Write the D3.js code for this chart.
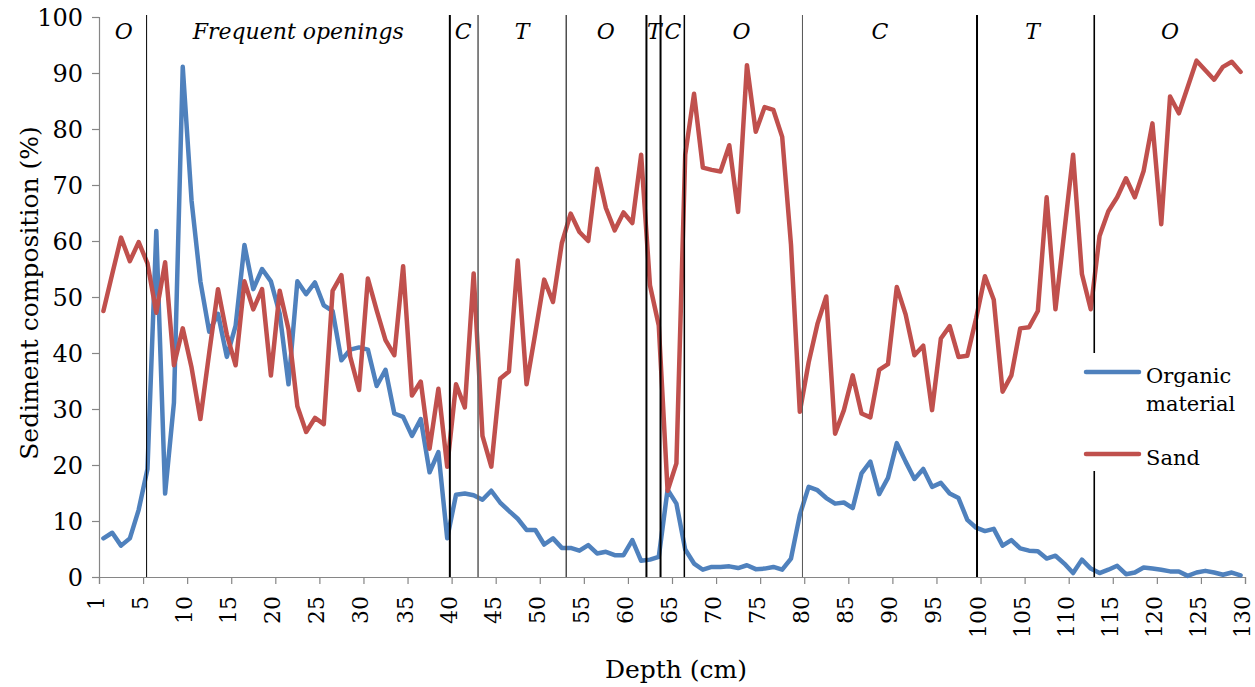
<!DOCTYPE html>
<html>
<head>
<meta charset="utf-8">
<script src="https://cdn.jsdelivr.net/npm/d3@7"></script>
<style>
  html, body { margin: 0; padding: 0; background: #fff; }
  svg { display: block; }
  text { font-family: "DejaVu Serif", serif; fill: #000; }
</style>
</head>
<body>
<svg id="chart" width="1255" height="687"></svg>
<script>
// ---------- data ----------
const tickLabels = ["1","5","10","15","20","25","30","35","40","45","50","55","60","65",
  "70","75","80","85","90","95","100","105","110","115","120","125","130"];

const organicMaterial = [
  6.9, 7.9, 5.6, 6.9, 12.0, 19.3, 61.8, 14.9, 31.1, 91.1,
  67.2, 52.8, 43.8, 47.0, 39.3, 44.9, 59.3, 51.4, 55.0, 52.8,
  47.0, 34.4, 52.8, 50.5, 52.6, 48.5, 47.5, 38.7, 40.6, 41.0,
  40.6, 34.1, 37.0, 29.2, 28.6, 25.2, 28.2, 18.7, 22.3, 6.9,
  14.7, 14.9, 14.6, 13.8, 15.4, 13.3, 11.8, 10.4, 8.4, 8.4,
  5.8, 6.9, 5.2, 5.2, 4.7, 5.7, 4.2, 4.5, 3.9, 3.9,
  6.6, 2.9, 3.1, 3.6, 15.6, 13.1, 4.9, 2.4, 1.3, 1.8,
  1.8, 1.9, 1.6, 2.1, 1.4, 1.5, 1.8, 1.3, 3.3, 11.1,
  16.1, 15.5, 14.1, 13.1, 13.3, 12.3, 18.5, 20.6, 14.8, 17.7,
  23.9, 20.6, 17.5, 19.3, 16.1, 16.8, 14.9, 14.1, 10.2, 8.8,
  8.2, 8.6, 5.6, 6.6, 5.1, 4.7, 4.6, 3.3, 3.8, 2.4,
  0.7, 3.1, 1.5, 0.7, 1.3, 2.0, 0.5, 0.8, 1.7, 1.5,
  1.3, 1.0, 1.0, 0.2, 0.8, 1.1, 0.8, 0.4, 0.8, 0.3
];

const sand = [
  47.5, 54.1, 60.6, 56.4, 59.8, 56.0, 47.2, 56.2, 37.8, 44.4,
  37.4, 28.2, 40.0, 51.4, 43.3, 37.8, 52.8, 47.8, 51.4, 36.0,
  51.1, 44.2, 30.5, 25.9, 28.4, 27.3, 51.1, 53.9, 39.3, 33.4,
  53.3, 47.6, 42.3, 39.6, 55.5, 32.4, 34.9, 22.9, 33.6, 19.7,
  34.4, 30.3, 54.2, 25.2, 19.7, 35.4, 36.7, 56.5, 34.4, 43.6,
  53.1, 49.1, 59.6, 64.9, 61.6, 60.0, 72.9, 65.9, 61.9, 65.1,
  63.2, 75.4, 52.1, 44.9, 15.4, 20.3, 75.4, 86.3, 73.1, 72.7,
  72.4, 77.1, 65.2, 91.4, 79.5, 83.9, 83.4, 78.6, 59.3, 29.5,
  38.3, 45.2, 50.1, 25.6, 29.8, 36.0, 29.2, 28.5, 37.0, 38.0,
  51.8, 46.9, 39.6, 41.3, 29.8, 42.6, 44.8, 39.3, 39.5, 46.2,
  53.7, 49.5, 33.1, 36.0, 44.4, 44.6, 47.5, 67.8, 47.8, 61.6,
  75.4, 54.1, 47.8, 60.9, 65.3, 67.8, 71.2, 67.8, 72.5, 81.0,
  63.0, 85.8, 82.8, 87.5, 92.2, 90.5, 88.8, 91.1, 92.0, 90.2
];

// zone boundaries (depth-axis units) and zone labels
const zoneBoundaries = [5.4, 39.8, 43.0, 53.0, 62.1, 63.7, 66.4, 79.8, 99.6, 112.9];
const zoneLabels = ["O", "Frequent openings", "C", "T", "O", "T", "C", "O", "C", "T", "O"];
const zoneLabelAt = [2.8, 22.6, 41.3, 48.0, 57.5, 63.0, 65.1, 72.9, 88.6, 105.9, 121.5];

const seriesNames = ["Organic\nmaterial", "Sand"];
const yTicks = [0, 10, 20, 30, 40, 50, 60, 70, 80, 90, 100];

// ---------- style / layout ----------
const colors = ["#4F81BD", "#C0504D"];
const boundaryStyle = [
  {w: 1.0, c: "#000"}, {w: 2.0, c: "#000"}, {w: 1.6, c: "#666"}, {w: 1.3, c: "#333"},
  {w: 2.0, c: "#000"}, {w: 2.0, c: "#000"}, {w: 1.5, c: "#000"}, {w: 1.0, c: "#555"},
  {w: 2.0, c: "#000"}, {w: 1.6, c: "#000"}
];
const L = 99, R = 1245, T = 17, B = 577;

const svg = d3.select("#chart");
const x = d3.scaleLinear().domain([0, 130]).range([L, R]);
const y = d3.scaleLinear().domain([0, 100]).range([B, T]);
const pos = organicMaterial.map((_, i) => i + 0.5); // category centres

// axes
const xAxis = d3.axisBottom(x)
  .tickValues(d3.range(0, 131, 5))
  .tickSize(7)
  .tickFormat((d, i) => tickLabels[i]);
const gx = svg.append("g").attr("transform", `translate(0,${B})`).call(xAxis);
gx.select(".domain").attr("stroke", "#868686").attr("stroke-width", 1.2);
gx.selectAll(".tick line").attr("stroke", "#868686").attr("stroke-width", 1.2);
gx.selectAll(".tick text")
  .attr("font-family", "DejaVu Serif")
  .attr("font-size", 22)
  .attr("fill", "#000")
  .attr("transform", "rotate(-90)")
  .attr("text-anchor", "end")
  .attr("dominant-baseline", "central")
  .attr("x", -19)
  .attr("y", -3)
  .attr("dy", 0);

const yAxis = d3.axisLeft(y).tickValues(yTicks).tickSize(7).tickFormat(d3.format("d"));
const gy = svg.append("g").attr("transform", `translate(${L},0)`).call(yAxis);
gy.select(".domain").attr("stroke", "#868686").attr("stroke-width", 1.2);
gy.selectAll(".tick line").attr("stroke", "#868686").attr("stroke-width", 1.2);
gy.selectAll(".tick text")
  .attr("font-family", "DejaVu Serif")
  .attr("font-size", 24)
  .attr("fill", "#000")
  .attr("x", -16)
  .attr("dy", "0.36em");

// series lines
const line = d3.line().x((d, i) => x(pos[i])).y(d => y(d));
[organicMaterial, sand].forEach((s, k) => {
  svg.append("path")
    .datum(s)
    .attr("d", line)
    .attr("fill", "none")
    .attr("stroke", colors[k])
    .attr("stroke-width", 4.5)
    .attr("stroke-linejoin", "round")
    .attr("stroke-linecap", "round");
});

// zone boundaries
svg.append("g").selectAll("line").data(zoneBoundaries).join("line")
  .attr("x1", d => x(d)).attr("x2", d => x(d))
  .attr("y1", 15).attr("y2", B)
  .attr("stroke", (d, i) => boundaryStyle[i].c)
  .attr("stroke-width", (d, i) => boundaryStyle[i].w);

// zone labels
svg.append("g").selectAll("text").data(zoneLabels).join("text")
  .attr("x", (d, i) => x(zoneLabelAt[i]))
  .attr("y", 39)
  .attr("text-anchor", "middle")
  .attr("font-style", "italic")
  .attr("font-size", 22)
  .text(d => d);

// axis titles
svg.append("text")
  .attr("x", 676).attr("y", 678)
  .attr("text-anchor", "middle")
  .attr("font-size", 25)
  .text("Depth (cm)");
svg.append("text")
  .attr("transform", `translate(38,${(T + B) / 2 - 4}) rotate(-90)`)
  .attr("text-anchor", "middle")
  .attr("font-size", 25)
  .text("Sediment composition (%)");

// legend
const lg = svg.append("g");
lg.append("rect").attr("x", 1080).attr("y", 353).attr("width", 170).attr("height", 118).attr("fill", "#fff");
const legendY = [372, 454];
seriesNames.forEach((name, k) => {
  lg.append("line")
    .attr("x1", 1086).attr("x2", 1139)
    .attr("y1", legendY[k]).attr("y2", legendY[k])
    .attr("stroke", colors[k]).attr("stroke-width", 4.5).attr("stroke-linecap", "round");
  const t = lg.append("text").attr("x", 1146).attr("y", legendY[k] + 11).attr("font-size", 21);
  name.split("\n").forEach((part, j) => {
    t.append("tspan").attr("x", 1146).attr("dy", j === 0 ? 0 : 28).text(part);
  });
});
</script>
</body>
</html>
